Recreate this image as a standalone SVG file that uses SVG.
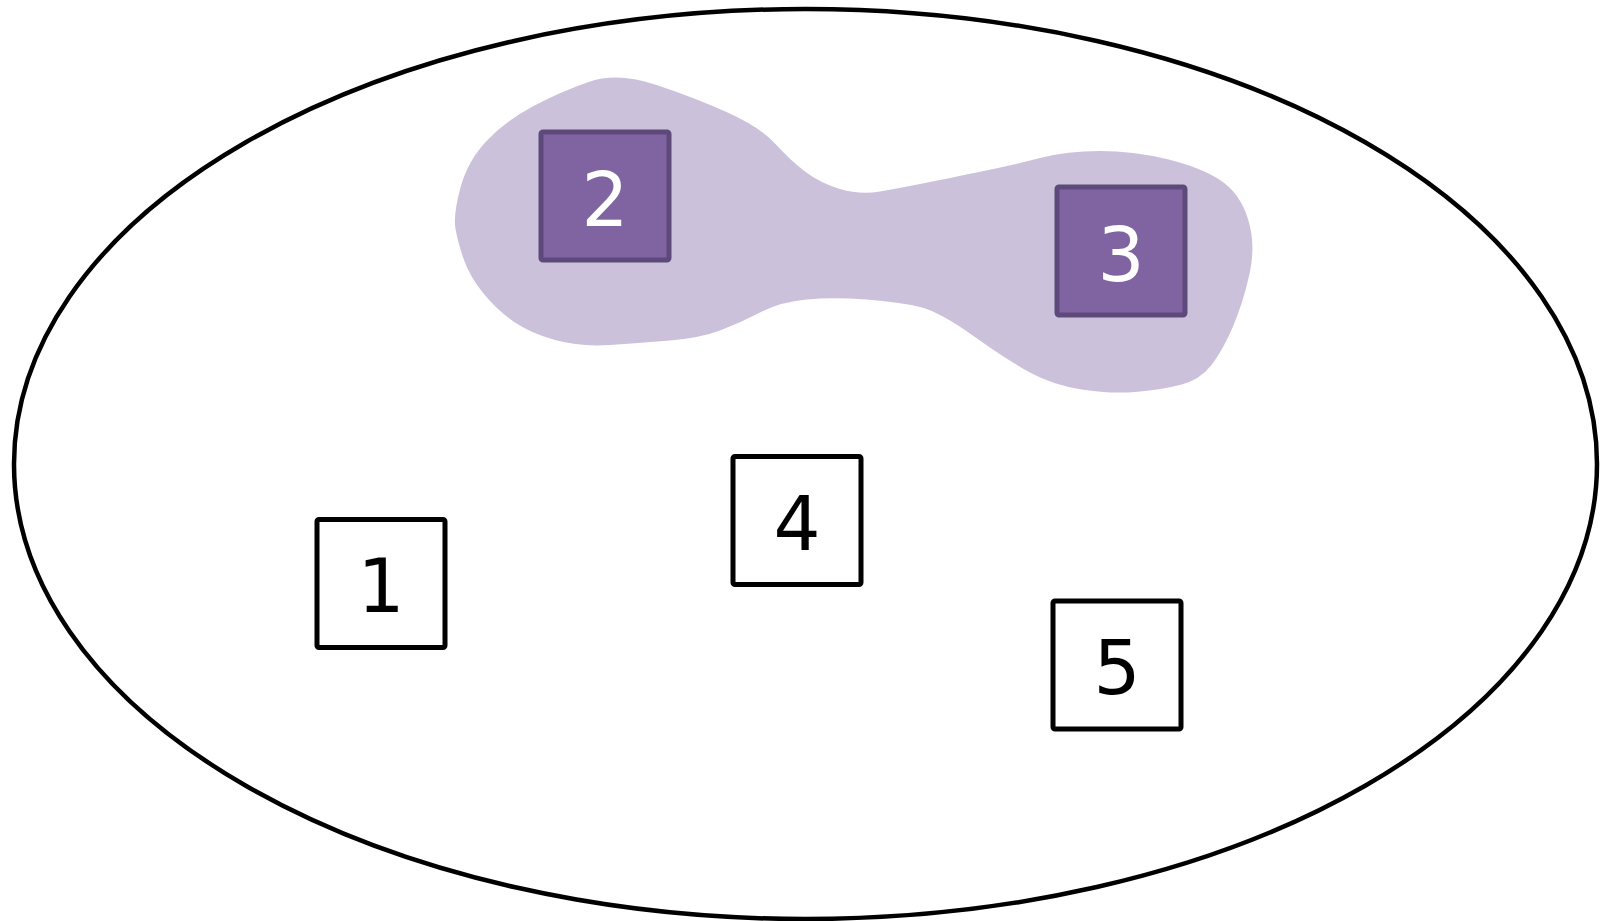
<svg xmlns="http://www.w3.org/2000/svg" width="1603" height="921" viewBox="0 0 1603 921">
  <style>
    .boundary { fill: #ffffff; stroke: #000000; stroke-width: 4.5; }
    .region { fill: #CCC1DA; stroke: none; }
    .box { fill: #ffffff; stroke: #000000; stroke-width: 5; stroke-linejoin: round; }
    .box.member { fill: #8064A2; stroke: #5E4A7A; }
    .label { font-family: "DejaVu Sans", "Liberation Sans", sans-serif; font-size: 74px; text-anchor: middle; fill: #000000; }
    .label.member { fill: #ffffff; }
  </style>

  <!-- outer boundary -->
  <ellipse id="universe" class="boundary" cx="805.5" cy="464" rx="791.5" ry="455"/>

  <!-- shaded region grouping nodes 2 and 3 (quadratic B-spline: control points on the outline, knots at midpoints) -->
  <path id="cluster" class="region" d="
    M 455.5 229
    Q 453 215 460.5 187.5
    Q 468 160 487.5 140
    Q 507 120 533.5 106
    Q 560 92 588.5 82
    Q 617 72 655 84.5
    Q 693 97 726.5 112
    Q 760 127 775 143.5
    Q 790 160 805 171.5
    Q 820 183 840 189
    Q 860 195 880 191.5
    Q 900 188 920 184
    Q 940 180 976.5 172.5
    Q 1013 165 1040 158
    Q 1067 151 1100 151
    Q 1133 151 1166.5 159
    Q 1200 167 1220 180
    Q 1240 193 1248 219
    Q 1256 245 1249.5 274
    Q 1243 303 1233 326.5
    Q 1223 350 1211.5 365
    Q 1200 380 1180 385
    Q 1160 390 1135 392
    Q 1110 394 1081.5 389.5
    Q 1053 385 1030 372.5
    Q 1007 360 973.5 336
    Q 940 312 920 307
    Q 900 302 866.5 299.5
    Q 833 297 806.5 299.5
    Q 780 302 760 312.5
    Q 740 323 720 330.5
    Q 700 338 670 340.5
    Q 640 343 610 345
    Q 580 347 555 340
    Q 530 333 513.5 321.5
    Q 497 310 483.5 293.5
    Q 470 277 464 260
    Q 458 243 455.5 229 Z"/>

  <g id="node-1">
    <rect class="box" x="317" y="519.5" width="128" height="128" rx="2"/>
    <text class="label" x="381" y="611.5">1</text>
  </g>

  <g id="node-2">
    <rect class="box member" x="541" y="132" width="128" height="128" rx="2"/>
    <text class="label member" x="605" y="225.5">2</text>
  </g>

  <g id="node-3">
    <rect class="box member" x="1057" y="187" width="128" height="128" rx="2"/>
    <text class="label member" x="1121" y="280.5">3</text>
  </g>

  <g id="node-4">
    <rect class="box" x="733" y="456.5" width="128" height="128" rx="2"/>
    <text class="label" x="797" y="549.5">4</text>
  </g>

  <g id="node-5">
    <rect class="box" x="1053" y="601" width="128" height="128" rx="2"/>
    <text class="label" x="1117" y="693.5">5</text>
  </g>

  <g id="connectors"/>
</svg>
